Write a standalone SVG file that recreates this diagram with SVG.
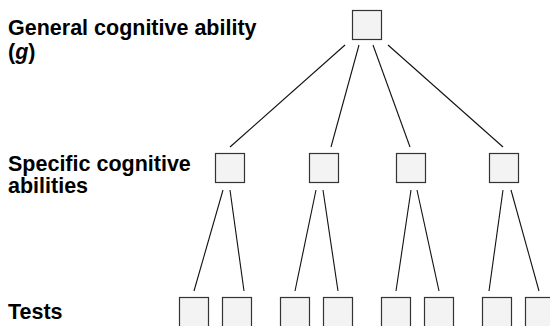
<svg xmlns="http://www.w3.org/2000/svg" width="550" height="326" viewBox="0 0 550 326">
<style>
.box{fill:#f3f3f3;stroke:#333;stroke-width:1.2}
.ln{stroke:#111;stroke-width:1.1;fill:none}
.lbl{font-family:"Liberation Sans",Arial,sans-serif;font-weight:bold;font-size:21.5px;fill:#000}
</style>
<rect width="550" height="326" fill="#fff"/>
<g id="labels">
<text class="lbl" x="8" y="35">General cognitive ability</text>
<text class="lbl" x="8" y="59">(<tspan font-style="italic">g</tspan>)</text>
<text class="lbl" x="8" y="171">Specific cognitive</text>
<text class="lbl" x="8" y="193">abilities</text>
<text class="lbl" x="8" y="319">Tests</text>
</g>
<g id="connectors">
<line class="ln" x1="345" y1="45" x2="230" y2="147"/>
<line class="ln" x1="359" y1="45" x2="331" y2="147"/>
<line class="ln" x1="373" y1="45" x2="410" y2="147"/>
<line class="ln" x1="388" y1="45" x2="503" y2="147"/>
<line class="ln" x1="223" y1="190" x2="194" y2="291"/>
<line class="ln" x1="230" y1="190" x2="244" y2="291"/>
<line class="ln" x1="316" y1="190" x2="295" y2="291"/>
<line class="ln" x1="323" y1="190" x2="338" y2="291"/>
<line class="ln" x1="411" y1="190" x2="396" y2="291"/>
<line class="ln" x1="417" y1="190" x2="439" y2="291"/>
<line class="ln" x1="503" y1="190" x2="489" y2="291"/>
<line class="ln" x1="511" y1="190" x2="539" y2="291"/>
</g>
<g id="g"><rect class="box" x="352.5" y="10.5" width="29" height="29"/></g>
<g id="s1"><rect class="box" x="215.5" y="153.5" width="29" height="29"/></g>
<g id="s2"><rect class="box" x="309.5" y="153.5" width="29" height="29"/></g>
<g id="s3"><rect class="box" x="396.5" y="153.5" width="29" height="29"/></g>
<g id="s4"><rect class="box" x="489.5" y="153.5" width="29" height="29"/></g>
<g id="t1"><rect class="box" x="179.5" y="297.5" width="29" height="30"/></g>
<g id="t2"><rect class="box" x="222.5" y="297.5" width="29" height="30"/></g>
<g id="t3"><rect class="box" x="280.5" y="297.5" width="29" height="30"/></g>
<g id="t4"><rect class="box" x="323.5" y="297.5" width="29" height="30"/></g>
<g id="t5"><rect class="box" x="381.5" y="297.5" width="29" height="30"/></g>
<g id="t6"><rect class="box" x="424.5" y="297.5" width="29" height="30"/></g>
<g id="t7"><rect class="box" x="482.5" y="297.5" width="29" height="30"/></g>
<g id="t8"><rect class="box" x="525.5" y="297.5" width="29" height="30"/></g>
</svg>
